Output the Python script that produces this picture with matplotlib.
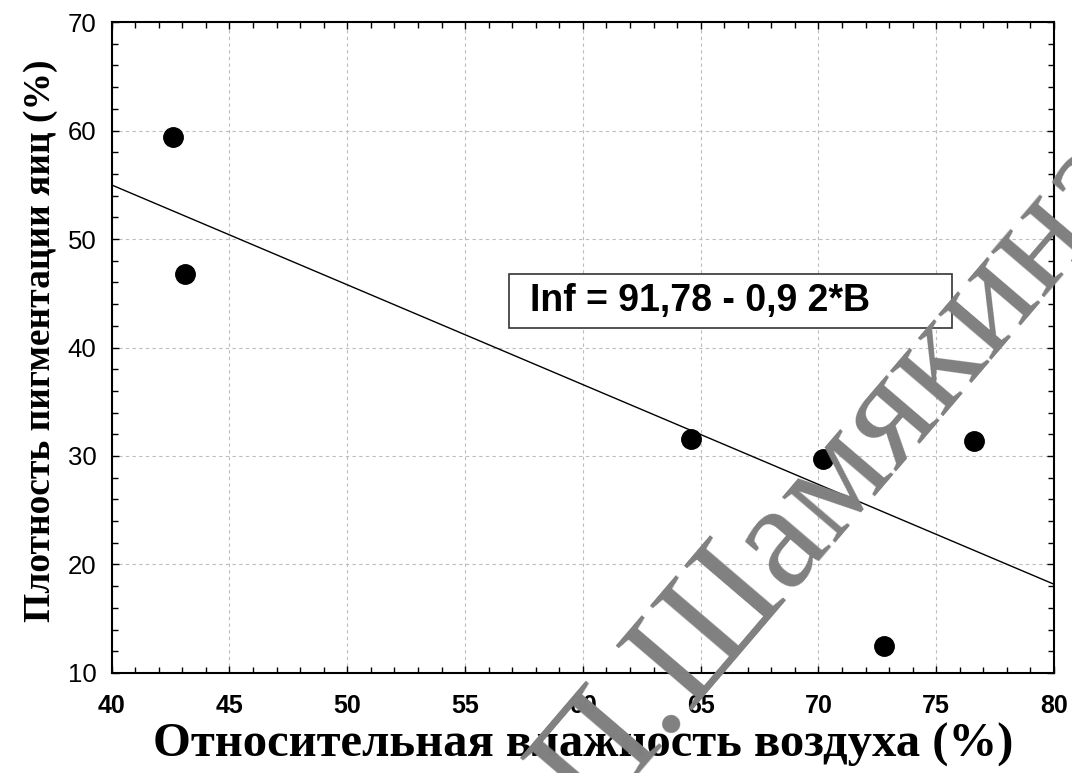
import numpy as np
import matplotlib.pyplot as plt
from matplotlib.patches import Rectangle
from matplotlib.ticker import MultipleLocator

plt.rcParams['font.family'] = ['Liberation Sans', 'DejaVu Sans']

# humidity (%) vs egg pigmentation density (%)
humidity = [42.6, 43.1, 64.6, 70.2, 72.8, 76.6]
pigment = [59.4, 46.8, 31.6, 29.7, 12.5, 31.4]

xticks = [40, 45, 50, 55, 60, 65, 70, 75, 80]
yticks = [10, 20, 30, 40, 50, 60, 70]

# regression coefficients as printed on the chart
intercept = 91.78
slope = -0.92
equation = "Inf = 91,78 - 0,9 2*B"

xlabel = "Относительная влажность воздуха (%)"
ylabel = "Плотность пигментации яиц (%)"
watermark = "П.Шамякина"

fig = plt.figure(figsize=(10.72, 7.73), dpi=100)
ax = fig.add_axes([0.1042, 0.1294, 0.8790, 0.8421])

ax.set_xlim(40, 80)
ax.set_ylim(10, 70)
ax.set_xticks(xticks, labels=[str(v) for v in xticks], fontsize=18, fontweight='bold')
ax.set_yticks(yticks, labels=[str(v) for v in yticks], fontsize=18.5)
ax.xaxis.set_minor_locator(MultipleLocator(1))
ax.yaxis.set_minor_locator(MultipleLocator(2))

ax.grid(True, which='major', color='#bdbdbd', linestyle=(0, (3, 3)), linewidth=0.8)
ax.set_axisbelow(True)

ax.tick_params(which='both', direction='in', top=True, right=True, color='black')
ax.tick_params(which='major', length=5, width=1)
ax.tick_params(which='minor', length=4, width=1)
ax.tick_params(axis='y', pad=11)
ax.tick_params(axis='x', pad=15)

for sp in ax.spines.values():
	sp.set_linewidth(1.5)
	sp.set_color('black')

# fitted line
xfit = np.array(ax.get_xlim())
ax.plot(xfit, intercept + slope * xfit, color='black', linewidth=1.0, zorder=3)

ax.plot(humidity, pigment, 'o', color='black', markersize=14, zorder=4)

# equation box
ax.add_patch(Rectangle((56.86, 41.8), 18.8, 4.95, facecolor='white', edgecolor='#333333', linewidth=1.2, zorder=5))
ax.text(57.75, 44.3, equation, fontsize=27, fontweight='bold', ha='left', va='center', zorder=6)

ax.set_xlabel(xlabel, fontsize=35, fontweight='bold', family='Liberation Serif')
ax.set_ylabel(ylabel, fontsize=27, fontweight='bold', family='Liberation Serif')
ax.xaxis.set_label_coords(0.5, -0.11)
ax.xaxis.label.set_va('center')
ax.yaxis.set_label_coords(-0.076, 0.51)
ax.yaxis.label.set_va('center')

# watermark over the whole figure
fig.text(0.552, -0.064, watermark, fontsize=110, family='Liberation Serif', color='#808080',
	rotation=49.5, rotation_mode='anchor', ha='left', va='baseline', zorder=10)

fig.savefig('out.png', dpi=100)
